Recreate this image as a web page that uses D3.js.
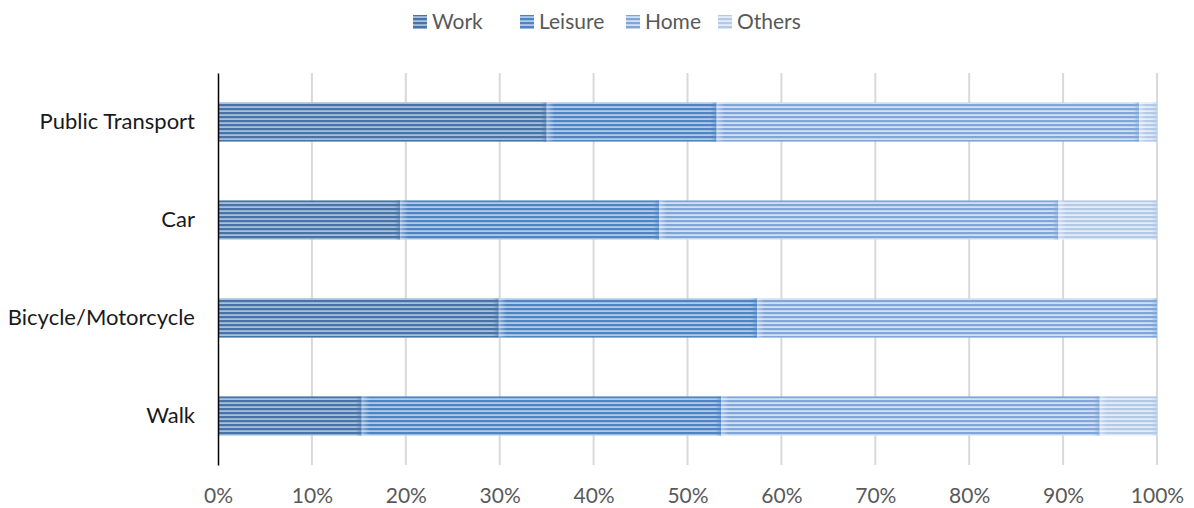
<!DOCTYPE html>
<html>
<head>
<meta charset="utf-8">
<script src="https://cdn.jsdelivr.net/npm/d3@7"></script>
<style>
  html, body { margin: 0; padding: 0; background: #fff; }
  svg { display: block; font-family: Lato, "Open Sans", sans-serif; }
</style>
</head>
<body>
<svg id="chart" width="1194" height="508"></svg>
<script>
// Trip purpose share by transport mode (percent of trips)
const categories = ["Public Transport", "Car", "Bicycle/Motorcycle", "Walk"];
const seriesNames = ["Work", "Leisure", "Home", "Others"];
const work    = [35.0, 19.4, 29.9, 15.3];
const leisure = [18.1, 27.6, 27.5, 38.3];
const home    = [45.0, 42.5, 42.6, 40.3];
const others  = [1.9, 10.5, 0.0, 6.1];
const tickLabels = ["0%", "10%", "20%", "30%", "40%", "50%", "60%", "70%", "80%", "90%", "100%"];

const seriesValues = [work, leisure, home, others];
const rows = categories.map((c, i) => {
  const r = { category: c };
  seriesNames.forEach((s, k) => { r[s] = seriesValues[k][i]; });
  return r;
});

// stripe colours per series: [dark line, light line]
const palette = {
  Work:    ["#4774a8", "#a7c0dc"],
  Leisure: ["#4e84c2", "#b0cbea"],
  Home:    ["#7ea6d9", "#d2e0f3"],
  Others:  ["#b3c9e8", "#e6edf8"]
};

const svg = d3.select("#chart");
const margin = { left: 218, right: 37, top: 73, bottom: 43 };
const W = 1194, H = 508;

const x = d3.scaleLinear().domain([0, 100]).range([margin.left, W - margin.right]);
const y = d3.scaleBand().domain(categories).range([margin.top, H - margin.bottom]).paddingInner(0.6).paddingOuter(0.3);

const defs = svg.append("defs");
seriesNames.forEach((s, k) => {
  const p = defs.append("pattern")
    .attr("id", "stripe" + k)
    .attr("patternUnits", "userSpaceOnUse")
    .attr("width", 8).attr("height", 4);
  p.append("rect").attr("width", 8).attr("height", 4).attr("fill", palette[s][1]);
  p.append("rect").attr("y", 0).attr("width", 8).attr("height", 2).attr("fill", palette[s][0]);
  p.append("rect").attr("y", 2).attr("width", 8).attr("height", 0.6).attr("fill", palette[s][0]).attr("opacity", 0.35);
  // soft edge at the end of each segment
  const g = defs.append("linearGradient").attr("id", "edge" + k);
  g.append("stop").attr("offset", "0%").attr("stop-color", palette[s][0]).attr("stop-opacity", 0);
  g.append("stop").attr("offset", "100%").attr("stop-color", palette[s][0]).attr("stop-opacity", 0.55);
  const g2 = defs.append("linearGradient").attr("id", "start" + k);
  g2.append("stop").attr("offset", "0%").attr("stop-color", "#ffffff").attr("stop-opacity", 0.35);
  g2.append("stop").attr("offset", "100%").attr("stop-color", "#ffffff").attr("stop-opacity", 0);
});

// gridlines
svg.append("g").selectAll("line")
  .data(d3.range(1, 11).map(d => d * 10))
  .join("line")
  .attr("x1", d => x(d)).attr("x2", d => x(d))
  .attr("y1", margin.top).attr("y2", H - margin.bottom)
  .attr("stroke", "#d9d9d9").attr("stroke-width", 2);

const stack = d3.stack().keys(seriesNames);
const stacked = stack(rows);

const layers = svg.append("g").selectAll("g")
  .data(stacked)
  .join("g");

layers.each(function(layer, k) {
  const g = d3.select(this);
  const segs = layer.filter(d => d[1] - d[0] > 0);
  g.selectAll("rect.seg").data(segs).join("rect")
    .attr("class", "seg")
    .attr("x", d => x(d[0]))
    .attr("y", d => y(d.data.category))
    .attr("width", d => x(d[1]) - x(d[0]))
    .attr("height", y.bandwidth())
    .attr("fill", `url(#stripe${k})`);
  g.selectAll("rect.edge").data(segs).join("rect")
    .attr("class", "edge")
    .attr("x", d => Math.max(x(d[0]), x(d[1]) - 6))
    .attr("y", d => y(d.data.category))
    .attr("width", d => Math.min(6, x(d[1]) - x(d[0])))
    .attr("height", y.bandwidth())
    .attr("fill", `url(#edge${k})`);
  g.selectAll("rect.start").data(segs.filter(d => d[0] > 0)).join("rect")
    .attr("class", "start")
    .attr("x", d => x(d[0]))
    .attr("y", d => y(d.data.category))
    .attr("width", d => Math.min(8, x(d[1]) - x(d[0])))
    .attr("height", y.bandwidth())
    .attr("fill", `url(#start${k})`);
});

// category axis
const yAxis = svg.append("g")
  .attr("transform", `translate(${margin.left},0)`)
  .call(d3.axisLeft(y).tickSize(0).tickPadding(23));
yAxis.select(".domain").attr("stroke", "#000").attr("stroke-width", 1.5);
yAxis.selectAll("text").attr("font-size", 22).attr("fill", "#1a1a1a").attr("font-family", "Lato, sans-serif");

// value axis labels
const xAxis = svg.append("g")
  .attr("transform", `translate(0,${H - margin.bottom})`)
  .call(d3.axisBottom(x).tickValues(d3.range(0, 11).map(d => d * 10)).tickFormat((d, i) => tickLabels[i]).tickSize(0).tickPadding(23));
xAxis.select(".domain").remove();
xAxis.selectAll("text").attr("font-size", 21).attr("fill", "#595959").attr("font-family", "Lato, sans-serif");

// legend
const legendX = [413, 520, 626, 718];
const legend = svg.append("g").selectAll("g")
  .data(seriesNames)
  .join("g")
  .attr("transform", (d, i) => `translate(${legendX[i]},22)`);
legend.append("rect")
  .attr("x", 0).attr("y", -7).attr("width", 14).attr("height", 14)
  .attr("fill", (d, i) => `url(#stripe${i})`);
legend.append("text")
  .attr("x", 19).attr("y", 0).attr("dy", "0.35em")
  .attr("font-size", 21).attr("fill", "#595959")
  .text(d => d);
</script>
</body>
</html>
